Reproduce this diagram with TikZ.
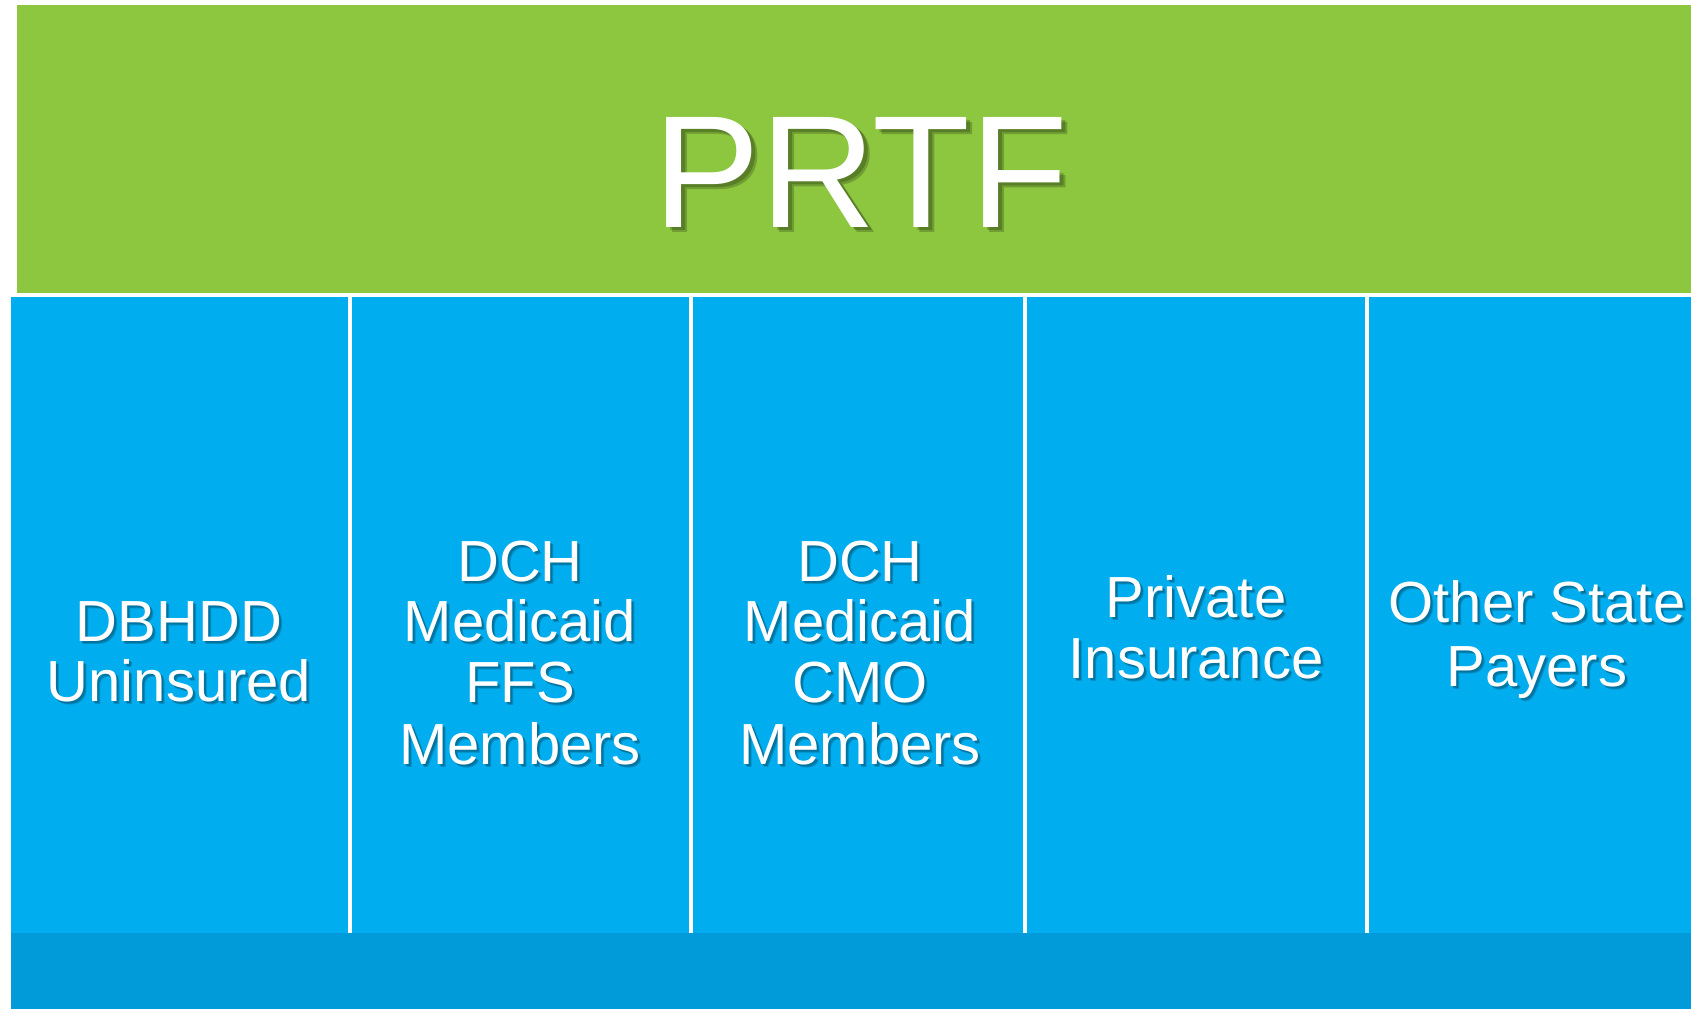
\documentclass[tikz,border=0pt]{standalone}
\usepackage{fontspec}
\setmainfont{Liberation Sans}
\definecolor{prtfgreen}{RGB}{141,198,63}
\definecolor{cellblue}{RGB}{0,173,238}
\definecolor{bandblue}{RGB}{0,155,216}
\tikzset{
  greenbox/.style={fill=prtfgreen, draw=none},
  cellbox/.style={fill=cellblue, draw=none},
  bandbox/.style={fill=bandblue, draw=none},
  lbl/.style={text=white, anchor=base, inner sep=0pt, font=\fontsize{58}{62}\selectfont},
  shd/.style={text=black, opacity=0.18, anchor=base, inner sep=0pt, font=\fontsize{58}{62}\selectfont},
  biglbl/.style={text=white, anchor=base, inner sep=0pt, font=\fontsize{160}{170}\selectfont},
  bigshd/.style={text=black, opacity=0.2, anchor=base, inner sep=0pt, font=\fontsize{160}{170}\selectfont},
}
\newcommand\celltxt[4]{%
  \node[shd] (#4s) at (#1+2,#2+2.5) {#3};
  \node[shd] (#4t) at (#1+3,#2+3.5) {#3};
  \node[lbl] (#4) at (#1,#2) {#3};
}
\begin{document}
\begin{tikzpicture}[x=1pt,y=-1pt]
\useasboundingbox (0,0) rectangle (1691,1009);
\fill[white] (0,0) rectangle (1691,1009);
% header
\path[greenbox] (17.3,5.3) rectangle (1720,293);
\node[bigshd] (prtfs) at (865,230) {PRTF};
\node[bigshd] (prtft) at (867,232) {PRTF};
\node[biglbl] (prtf) at (861,227) {PRTF};
% cells
\path[cellbox] (10.7,297.3) rectangle (348,933);
\path[cellbox] (352.3,297.3) rectangle (689,933);
\path[cellbox] (693.3,297.3) rectangle (1023.3,933);
\path[cellbox] (1027.3,297.3) rectangle (1365,933);
\path[cellbox] (1369,297.3) rectangle (1720,933);
\path[bandbox] (10.7,932.7) rectangle (1720,1009);
% cell 1
\celltxt{179}{641}{DBHDD}{a1}
\celltxt{179}{701}{Uninsured}{a2}
% cell 2
\celltxt{520}{581}{DCH}{b1}
\celltxt{520}{641}{Medicaid}{b2}
\celltxt{520}{702}{FFS}{b3}
\celltxt{520}{764}{Members}{b4}
% cell 3
\celltxt{860}{581}{DCH}{c1}
\celltxt{860}{641}{Medicaid}{c2}
\celltxt{860}{702}{CMO}{c3}
\celltxt{860}{764}{Members}{c4}
% cell 4
\celltxt{1196}{617}{Private}{d1}
\celltxt{1196}{678}{Insurance}{d2}
% cell 5
\celltxt{1537}{622}{Other State}{e1}
\celltxt{1537}{686}{Payers}{e2}
\end{tikzpicture}
\end{document}
